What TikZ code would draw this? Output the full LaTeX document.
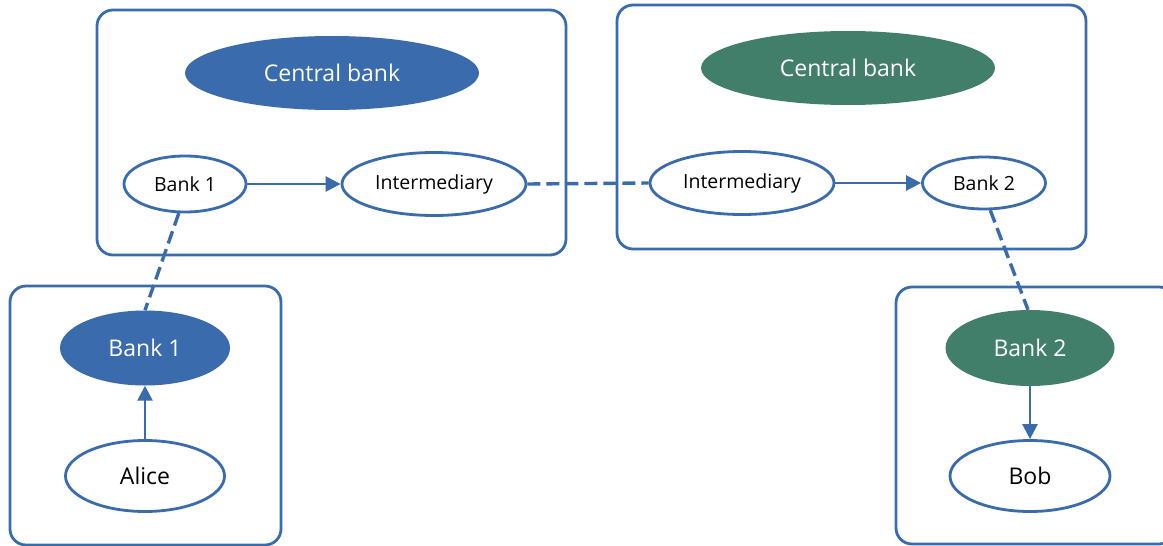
\documentclass[tikz,border=0pt]{standalone}
\usepackage{fontspec}
\setmainfont{Open Sans}
\usetikzlibrary{arrows.meta,shapes.geometric}
\definecolor{cblue}{HTML}{3A6BAD}
\definecolor{cgreen}{HTML}{417F6B}
\tikzset{
  grp/.style={draw=cblue,line width=2.8pt,rounded corners=16pt},
  wnode/.style={ellipse,draw=cblue,line width=2.8pt,fill=white,inner sep=0pt,text=black},
  bnode/.style={ellipse,fill=cblue,draw=none,inner sep=0pt,text=white},
  gnode/.style={ellipse,fill=cgreen,draw=none,inner sep=0pt,text=white},
  flow/.style={draw=cblue,line width=2.6pt,-{Triangle[length=15pt,width=15pt]}},
  link/.style={draw=cblue,line width=3.4pt,dash pattern=on 13pt off 6pt},
  sm/.style={font=\fontsize{19.5}{22}\selectfont},
  lg/.style={font=\fontsize{23}{26}\selectfont}
}
\begin{document}
\begin{tikzpicture}[x=1pt,y=-1pt]
\useasboundingbox (0,0) rectangle (1163,546);
% group boxes
\draw[grp] (97,10) rectangle (566,255);
\draw[grp] (617,5) rectangle (1086,249);
\draw[grp] (10,286) rectangle (281,545);
\draw[grp] (896,287) rectangle (1175,544);
% nodes
\node[bnode,lg,minimum width=294pt,minimum height=74pt] (cb1) at (332,73) {Central bank};
\node[gnode,lg,minimum width=294pt,minimum height=74pt] (cb2) at (848,68) {Central bank};
\node[wnode,sm,minimum width=122pt,minimum height=56pt] (b1) at (185,184) {Bank 1};
\node[wnode,sm,minimum width=184pt,minimum height=63pt] (i1) at (434,184) {Intermediary};
\node[wnode,sm,minimum width=184pt,minimum height=63pt] (i2) at (742,183) {Intermediary};
\node[wnode,sm,minimum width=123pt,minimum height=52pt] (b2) at (984,183) {Bank 2};
\node[bnode,lg,minimum width=170pt,minimum height=75pt] (b1f) at (145,348) {Bank 1};
\node[wnode,lg,minimum width=159pt,minimum height=71pt] (alice) at (145,476) {Alice};
\node[gnode,lg,minimum width=169pt,minimum height=76pt] (b2f) at (1030,348) {Bank 2};
\node[wnode,lg,minimum width=160pt,minimum height=71pt] (bob) at (1030,476) {Bob};
% connectors
\draw[flow] (b1.east) -- (i1.west);
\draw[flow] (i2.east) -- (b2.west);
\draw[link] (i1.east) -- (i2.west);
\draw[link] (b1.-102) -- (b1f.north);
\draw[link] (b2.-77) -- (b2f.93);
\draw[flow] (alice.north) -- (b1f.south);
\draw[flow] (b2f.south) -- (bob.north);
\end{tikzpicture}
\end{document}
